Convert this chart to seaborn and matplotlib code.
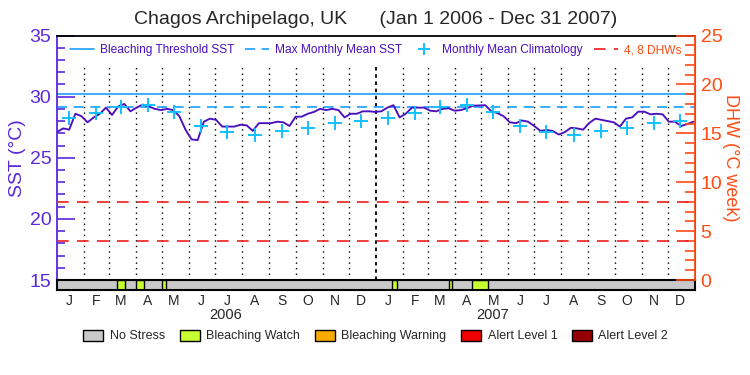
import pandas as pd
import matplotlib
matplotlib.use("Agg")
import matplotlib.pyplot as plt
from matplotlib.patches import Patch
from matplotlib.lines import Line2D
from matplotlib.ticker import MultipleLocator
import seaborn as sns

sst_weekly = [27.1, 27.4, 27.3, 28.6, 28.4, 27.9, 28.3, 28.6, 29.1, 28.5,
              29.2, 29.4, 28.8, 29.1, 29.35, 29.2, 29.0, 28.9, 29.0, 28.9,
              28.4, 27.3, 26.5, 26.45, 27.95, 28.2, 28.1, 27.55, 27.55, 27.55,
              27.7, 27.65, 27.2, 27.83, 27.83, 27.83, 27.95, 27.9, 27.6, 28.36,
              28.36, 28.6, 28.75, 29.0, 28.9, 29.0, 28.9, 28.3, 28.6, 28.6,
              28.8, 28.8, 28.75, 28.8, 29.1, 29.3, 28.3, 28.6, 29.1, 29.1,
              29.1, 28.85, 28.8, 29.0, 29.05, 28.85, 28.9, 29.05, 29.26, 29.28,
              29.3, 28.8, 28.65, 28.4, 27.9, 27.83, 28.05, 27.95, 27.6, 27.2,
              27.27, 27.2, 26.9, 27.1, 27.45, 27.4, 27.3, 27.85, 28.2, 28.1,
              28.0, 27.9, 27.55, 28.2, 28.3, 28.77, 28.77, 28.55, 28.6, 28.55,
              27.95, 27.95, 27.6, 27.75, 27.95]
clim_monthly = [28.28, 28.63, 29.15, 29.31, 28.72, 27.61,
                27.07, 26.86, 27.17, 27.46, 27.82, 28.03]
threshold_sst = 30.18
mmm_sst = 29.18
dhw_levels = [4, 8]
watch_periods = [("2006-03-11", "2006-03-20"), ("2006-04-01", "2006-04-10"),
                 ("2006-05-01", "2006-05-06"), ("2007-01-19", "2007-01-25"),
                 ("2007-03-25", "2007-03-29"), ("2007-04-21", "2007-05-09")]
month_letters = list("JFMAMJJASOND") * 2
stress_labels = ["No Stress", "Bleaching Watch", "Bleaching Warning",
                 "Alert Level 1", "Alert Level 2"]
stress_colors = ["#c8c8c8", "#c8ff32", "#fbaa00", "#f50000", "#960000"]

purple = "#5a28dc"
line_purple = "#4b0fbe"
blue = "#1aa0ff"
cyan = "#12c0ff"
orange = "#ff4a14"
red = "#f01e1e"

sns.set_style("white")
plt.rcParams["font.family"] = ["Liberation Sans", "DejaVu Sans"]

dates = pd.date_range("2006-01-01", periods=len(sst_weekly), freq="7D")
df = pd.DataFrame({"date": dates, "sst": sst_weekly})
clim_dates = pd.date_range("2006-01-01", periods=24, freq="MS") + pd.Timedelta(days=14)
clim = pd.DataFrame({"date": clim_dates, "sst": clim_monthly * 2})
t0, t1 = pd.Timestamp("2006-01-01"), pd.Timestamp("2008-01-01")

fig = plt.figure(figsize=(7.5, 3.75), dpi=100)
ax = fig.add_axes([0.076, 0.2533, 0.8507, 0.652])
ax_s = fig.add_axes([0.076, 0.2267, 0.8507, 0.0267])

# month separators
for m in pd.date_range("2006-02-01", "2007-12-01", freq="MS"):
    if m == pd.Timestamp("2007-01-01"):
        ax.axvline(m, ymax=0.88, color="k", ls=(0, (2, 2)), lw=1.3)
    else:
        ax.axvline(m, ymax=0.88, color="k", ls=(0, (1, 3)), lw=1)

ax.axhline(threshold_sst, color=blue, lw=1.2)
ax.axhline(mmm_sst, color=blue, lw=1.2, ls=(0, (6, 4)))
sns.lineplot(data=df, x="date", y="sst", ax=ax, color=line_purple, lw=1.35)
sns.scatterplot(data=clim, x="date", y="sst", ax=ax, marker="+", s=110,
                color=cyan, linewidth=1.4, zorder=5)

ax.set_xlim(t0, t1)
ax.set_ylim(15, 35)
ax.yaxis.set_major_locator(MultipleLocator(5))
ax.yaxis.set_minor_locator(MultipleLocator(1))
ax.tick_params(axis="x", bottom=False, top=False, labelbottom=False)
ax.tick_params(axis="y", which="major", direction="in", length=13, width=1.2,
               colors=purple, labelsize=14, pad=4, right=False)
ax.tick_params(axis="y", which="minor", direction="in", length=6, width=1.2,
               colors=purple, right=False, left=True)
ax.set_xlabel("")
ax.set_ylabel("SST (°C)", color=purple, fontsize=14, labelpad=3)
for side in ["top", "bottom"]:
    ax.spines[side].set_color("k")
    ax.spines[side].set_linewidth(1.3)
ax.spines["left"].set_color(purple)
ax.spines["left"].set_linewidth(1.3)

ax2 = ax.twinx()
for lvl in dhw_levels:
    ax2.axhline(lvl, color=red, lw=1.2, ls=(0, (7, 5)))
ax2.set_ylim(0, 25)
ax2.yaxis.set_major_locator(MultipleLocator(5))
ax2.yaxis.set_minor_locator(MultipleLocator(1))
ax2.tick_params(axis="y", which="major", direction="in", length=14, width=1.2,
                colors=orange, labelsize=14, pad=4)
ax2.tick_params(axis="y", which="minor", direction="in", length=7, width=1.2,
                colors=orange)
ax2.set_ylabel("DHW (°C week)", color=orange, fontsize=13, rotation=270, labelpad=12)
ax2.spines["right"].set_color(orange)
ax2.spines["right"].set_linewidth(1.3)
ax2.spines["left"].set_visible(False)
ax2.spines["top"].set_visible(False)
ax2.spines["bottom"].set_visible(False)

handles = [Line2D([], [], color=blue, lw=1.2),
           Line2D([], [], color=blue, lw=1.2, ls=(0, (6, 4))),
           Line2D([], [], color=cyan, marker="+", ls="none", ms=9, mew=1.4),
           Line2D([], [], color=red, lw=1.2, ls=(0, (7, 5)))]
labels = ["Bleaching Threshold SST", "Max Monthly Mean SST",
          "Monthly Mean Climatology", "4, 8 DHWs"]
leg = ax2.legend(handles, labels, loc="center", bbox_to_anchor=(0.499, 0.94),
                 ncol=4, frameon=False, fontsize=8.6, handlelength=2.0,
                 handletextpad=0.5, columnspacing=0.9)
for i, t in enumerate(leg.get_texts()):
    t.set_color(orange if i == 3 else line_purple)

# bleaching stress strip
ax_s.set_facecolor(stress_colors[0])
for a, b in watch_periods:
    ax_s.axvspan(pd.Timestamp(a), pd.Timestamp(b), facecolor=stress_colors[1],
                 edgecolor="k", lw=1)
ax_s.set_xlim(t0, t1)
ax_s.set_ylim(0, 1)
ax_s.set_yticks([])
ax_s.set_xticks(clim_dates)
ax_s.set_xticklabels(month_letters)
ax_s.tick_params(axis="x", length=0, labelsize=10, pad=3)
for sp in ax_s.spines.values():
    sp.set_color("k")
    sp.set_linewidth(1.5)
ax_s.text(0.265, -2.5, "2006", transform=ax_s.transAxes, ha="center", va="center", fontsize=10.5)
ax_s.text(0.683, -2.5, "2007", transform=ax_s.transAxes, ha="center", va="center", fontsize=10.5)

fig.text(0.501, 1 - 20 / 375, "Chagos Archipelago, UK      (Jan 1 2006 - Dec 31 2007)",
         ha="center", va="center", fontsize=14)

patches = [Patch(facecolor=c, edgecolor="k", lw=1, label=l)
           for c, l in zip(stress_colors, stress_labels)]
fig.legend(handles=patches, loc="center", bbox_to_anchor=(0.501, 0.104), ncol=5,
           frameon=False, fontsize=9, handlelength=1.6, handleheight=1.0,
           handletextpad=0.5, columnspacing=1.2)

fig.savefig("out.png", dpi=100)
